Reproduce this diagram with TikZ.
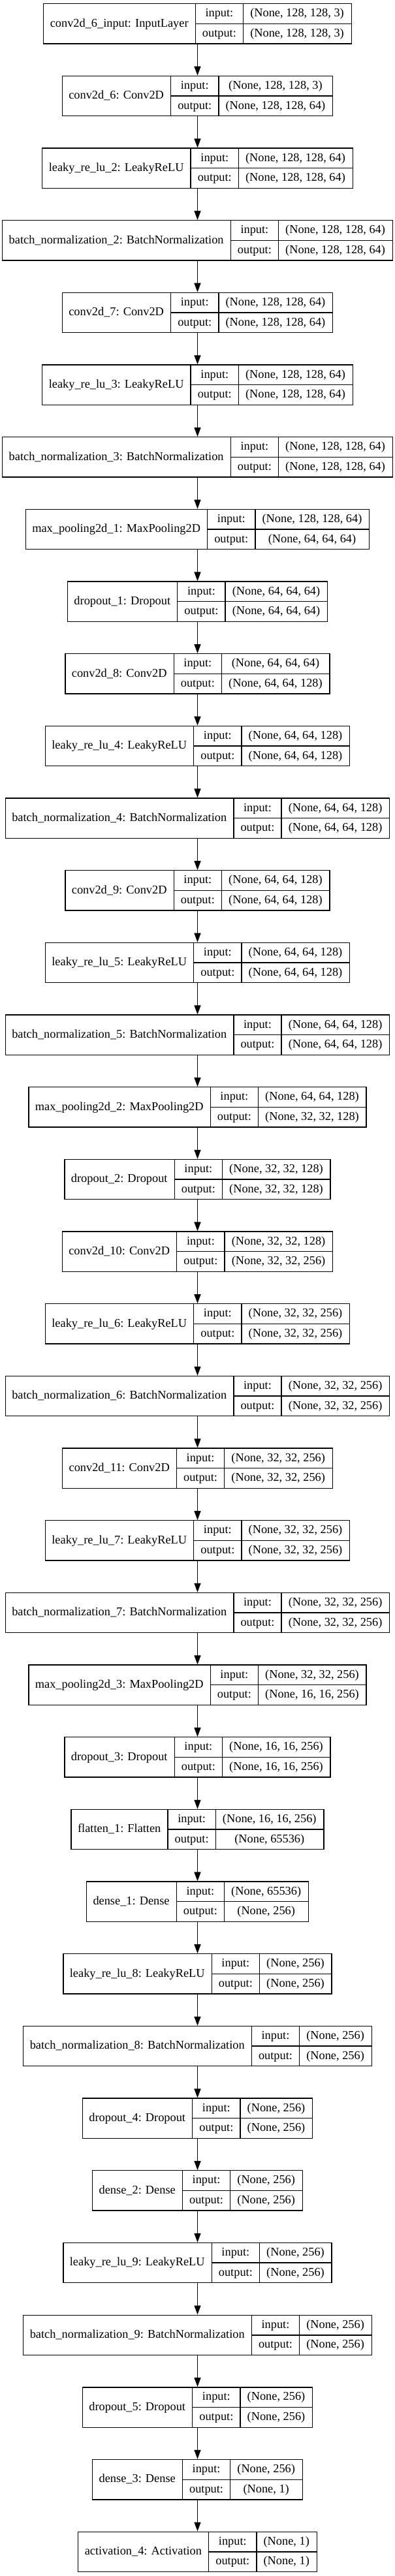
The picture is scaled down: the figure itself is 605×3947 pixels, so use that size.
\documentclass[tikz,border=0pt]{standalone}
\usepackage{fontspec}
\setmainfont{Liberation Serif}
\usetikzlibrary{arrows.meta}

\newlength\labw
\newlength\valw
\newlength\tmpw
\newlength\colw
\newcommand{\layerfont}{\fontsize{13.75}{16.5}\selectfont}
% text width measured outside the picture's null font
\newcommand{\measure}[2]{\pgfinterruptpicture\settowidth{\tmpw}{\layerfont #2}\global#1=\tmpw\endpgfinterruptpicture}

\tikzset{
	layerbox/.style={draw=black, line width=1pt, inner sep=0pt, minimum height=46pt},
	celltext/.style={inner sep=0pt, anchor=base, font=\layerfont},
	flow/.style={-{Triangle[length=10.5pt,width=7.5pt]}, line width=1pt},
}

% one layer: node name, row index, label, input shape, output shape
\newcommand{\layer}[5]{%
	\measure{\labw}{#3}%
	\measure{\valw}{#4}%
	\measure{\tmpw}{#5}%
	\ifdim\tmpw>\valw \global\valw=\tmpw\fi
	\global\advance\labw by 16pt
	\global\advance\valw by 16pt
	\node[layerbox, minimum width=\labw+\colw+\valw] (#1) at (302.5,{36.35+110.67*#2}) {};
	\draw[line width=1pt] ([xshift=\labw]#1.north west) -- ([xshift=\labw]#1.south west);
	\draw[line width=1pt] ([xshift=\labw+\colw]#1.north west) -- ([xshift=\labw+\colw]#1.south west);
	\draw[line width=1pt] ([xshift=\labw]#1.west) -- (#1.east);
	\node[celltext] at ([xshift=0.5*\labw, yshift=-3.6pt]#1.west) {#3};
	\node[celltext] at ([xshift=\labw+0.5*\colw, yshift=7.9pt]#1.west) {input:};
	\node[celltext] at ([xshift=\labw+0.5*\colw, yshift=-15.1pt]#1.west) {output:};
	\node[celltext] at ([xshift=\labw+\colw+0.5*\valw, yshift=7.9pt]#1.west) {#4};
	\node[celltext] at ([xshift=\labw+\colw+0.5*\valw, yshift=-15.1pt]#1.west) {#5};
}

\begin{document}
\begin{tikzpicture}[x=0.75pt, y=-0.75pt]
	\path[use as bounding box, fill=white] (0,0) rectangle (605,3947);
	\measure{\colw}{output:}
	\global\advance\colw by 16pt
	
	\layer{conv2d6in}{0}{conv2d\_6\_input: InputLayer}{(None, 128, 128, 3)}{(None, 128, 128, 3)}
	\layer{conv2d6}{1}{conv2d\_6: Conv2D}{(None, 128, 128, 3)}{(None, 128, 128, 64)}
	\layer{lrelu2}{2}{leaky\_re\_lu\_2: LeakyReLU}{(None, 128, 128, 64)}{(None, 128, 128, 64)}
	\layer{bnorm2}{3}{batch\_normalization\_2: BatchNormalization}{(None, 128, 128, 64)}{(None, 128, 128, 64)}
	\layer{conv2d7}{4}{conv2d\_7: Conv2D}{(None, 128, 128, 64)}{(None, 128, 128, 64)}
	\layer{lrelu3}{5}{leaky\_re\_lu\_3: LeakyReLU}{(None, 128, 128, 64)}{(None, 128, 128, 64)}
	\layer{bnorm3}{6}{batch\_normalization\_3: BatchNormalization}{(None, 128, 128, 64)}{(None, 128, 128, 64)}
	\layer{pool1}{7}{max\_pooling2d\_1: MaxPooling2D}{(None, 128, 128, 64)}{(None, 64, 64, 64)}
	\layer{drop1}{8}{dropout\_1: Dropout}{(None, 64, 64, 64)}{(None, 64, 64, 64)}
	\layer{conv2d8}{9}{conv2d\_8: Conv2D}{(None, 64, 64, 64)}{(None, 64, 64, 128)}
	\layer{lrelu4}{10}{leaky\_re\_lu\_4: LeakyReLU}{(None, 64, 64, 128)}{(None, 64, 64, 128)}
	\layer{bnorm4}{11}{batch\_normalization\_4: BatchNormalization}{(None, 64, 64, 128)}{(None, 64, 64, 128)}
	\layer{conv2d9}{12}{conv2d\_9: Conv2D}{(None, 64, 64, 128)}{(None, 64, 64, 128)}
	\layer{lrelu5}{13}{leaky\_re\_lu\_5: LeakyReLU}{(None, 64, 64, 128)}{(None, 64, 64, 128)}
	\layer{bnorm5}{14}{batch\_normalization\_5: BatchNormalization}{(None, 64, 64, 128)}{(None, 64, 64, 128)}
	\layer{pool2}{15}{max\_pooling2d\_2: MaxPooling2D}{(None, 64, 64, 128)}{(None, 32, 32, 128)}
	\layer{drop2}{16}{dropout\_2: Dropout}{(None, 32, 32, 128)}{(None, 32, 32, 128)}
	\layer{conv2d10}{17}{conv2d\_10: Conv2D}{(None, 32, 32, 128)}{(None, 32, 32, 256)}
	\layer{lrelu6}{18}{leaky\_re\_lu\_6: LeakyReLU}{(None, 32, 32, 256)}{(None, 32, 32, 256)}
	\layer{bnorm6}{19}{batch\_normalization\_6: BatchNormalization}{(None, 32, 32, 256)}{(None, 32, 32, 256)}
	\layer{conv2d11}{20}{conv2d\_11: Conv2D}{(None, 32, 32, 256)}{(None, 32, 32, 256)}
	\layer{lrelu7}{21}{leaky\_re\_lu\_7: LeakyReLU}{(None, 32, 32, 256)}{(None, 32, 32, 256)}
	\layer{bnorm7}{22}{batch\_normalization\_7: BatchNormalization}{(None, 32, 32, 256)}{(None, 32, 32, 256)}
	\layer{pool3}{23}{max\_pooling2d\_3: MaxPooling2D}{(None, 32, 32, 256)}{(None, 16, 16, 256)}
	\layer{drop3}{24}{dropout\_3: Dropout}{(None, 16, 16, 256)}{(None, 16, 16, 256)}
	\layer{flat1}{25}{flatten\_1: Flatten}{(None, 16, 16, 256)}{(None, 65536)}
	\layer{dense1}{26}{dense\_1: Dense}{(None, 65536)}{(None, 256)}
	\layer{lrelu8}{27}{leaky\_re\_lu\_8: LeakyReLU}{(None, 256)}{(None, 256)}
	\layer{bnorm8}{28}{batch\_normalization\_8: BatchNormalization}{(None, 256)}{(None, 256)}
	\layer{drop4}{29}{dropout\_4: Dropout}{(None, 256)}{(None, 256)}
	\layer{dense2}{30}{dense\_2: Dense}{(None, 256)}{(None, 256)}
	\layer{lrelu9}{31}{leaky\_re\_lu\_9: LeakyReLU}{(None, 256)}{(None, 256)}
	\layer{bnorm9}{32}{batch\_normalization\_9: BatchNormalization}{(None, 256)}{(None, 256)}
	\layer{drop5}{33}{dropout\_5: Dropout}{(None, 256)}{(None, 256)}
	\layer{dense3}{34}{dense\_3: Dense}{(None, 256)}{(None, 1)}
	\layer{act4}{35}{activation\_4: Activation}{(None, 1)}{(None, 1)}
	
	\draw[flow] (conv2d6in.south) -- (conv2d6.north);
	\draw[flow] (conv2d6.south) -- (lrelu2.north);
	\draw[flow] (lrelu2.south) -- (bnorm2.north);
	\draw[flow] (bnorm2.south) -- (conv2d7.north);
	\draw[flow] (conv2d7.south) -- (lrelu3.north);
	\draw[flow] (lrelu3.south) -- (bnorm3.north);
	\draw[flow] (bnorm3.south) -- (pool1.north);
	\draw[flow] (pool1.south) -- (drop1.north);
	\draw[flow] (drop1.south) -- (conv2d8.north);
	\draw[flow] (conv2d8.south) -- (lrelu4.north);
	\draw[flow] (lrelu4.south) -- (bnorm4.north);
	\draw[flow] (bnorm4.south) -- (conv2d9.north);
	\draw[flow] (conv2d9.south) -- (lrelu5.north);
	\draw[flow] (lrelu5.south) -- (bnorm5.north);
	\draw[flow] (bnorm5.south) -- (pool2.north);
	\draw[flow] (pool2.south) -- (drop2.north);
	\draw[flow] (drop2.south) -- (conv2d10.north);
	\draw[flow] (conv2d10.south) -- (lrelu6.north);
	\draw[flow] (lrelu6.south) -- (bnorm6.north);
	\draw[flow] (bnorm6.south) -- (conv2d11.north);
	\draw[flow] (conv2d11.south) -- (lrelu7.north);
	\draw[flow] (lrelu7.south) -- (bnorm7.north);
	\draw[flow] (bnorm7.south) -- (pool3.north);
	\draw[flow] (pool3.south) -- (drop3.north);
	\draw[flow] (drop3.south) -- (flat1.north);
	\draw[flow] (flat1.south) -- (dense1.north);
	\draw[flow] (dense1.south) -- (lrelu8.north);
	\draw[flow] (lrelu8.south) -- (bnorm8.north);
	\draw[flow] (bnorm8.south) -- (drop4.north);
	\draw[flow] (drop4.south) -- (dense2.north);
	\draw[flow] (dense2.south) -- (lrelu9.north);
	\draw[flow] (lrelu9.south) -- (bnorm9.north);
	\draw[flow] (bnorm9.south) -- (drop5.north);
	\draw[flow] (drop5.south) -- (dense3.north);
	\draw[flow] (dense3.south) -- (act4.north);
\end{tikzpicture}
\end{document}
